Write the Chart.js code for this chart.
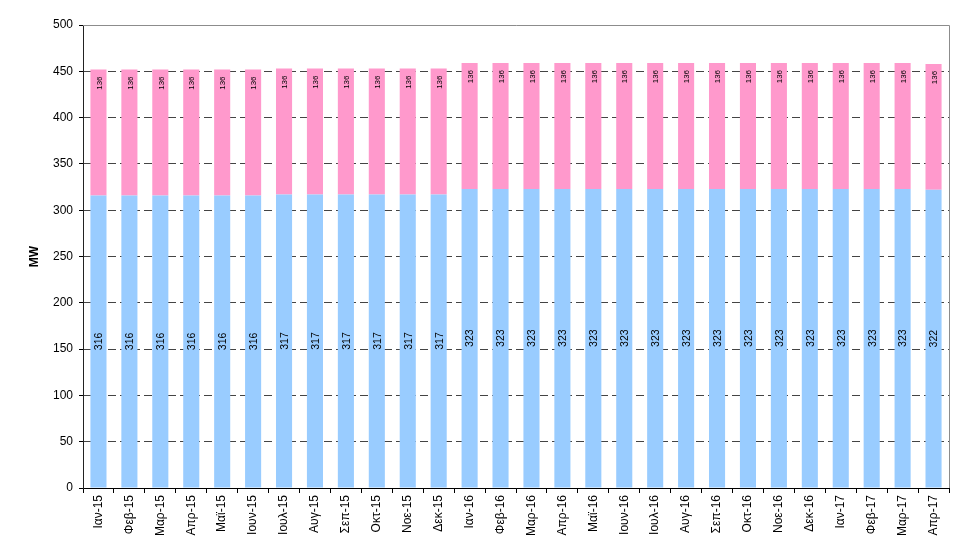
<!DOCTYPE html>
<html>
<head>
<meta charset="utf-8">
<script src="https://cdn.jsdelivr.net/npm/chart.js@4"></script>
<style>
  html, body { margin: 0; padding: 0; background: #fff; }
  #wrap { width: 956px; height: 549px; }
</style>
</head>
<body>
<div id="wrap"><canvas id="mwChart" width="956" height="549"></canvas></div>
<script>
// months (Greek abbreviations as in the original)
var months = ['Ιαν-15', 'Φεβ-15', 'Μαρ-15', 'Απρ-15', 'Μαϊ-15', 'Ιουν-15', 'Ιουλ-15', 'Αυγ-15', 'Σεπ-15', 'Οκτ-15', 'Νοε-15', 'Δεκ-15',
    'Ιαν-16', 'Φεβ-16', 'Μαρ-16', 'Απρ-16', 'Μαϊ-16', 'Ιουν-16', 'Ιουλ-16', 'Αυγ-16', 'Σεπ-16', 'Οκτ-16', 'Νοε-16', 'Δεκ-16',
    'Ιαν-17', 'Φεβ-17', 'Μαρ-17', 'Απρ-17']
var lowerValues = [316, 316, 316, 316, 316, 316, 317, 317, 317, 317, 317, 317,
    323, 323, 323, 323, 323, 323, 323, 323, 323, 323, 323, 323,
    323, 323, 323, 322]
var upperValues = [136, 136, 136, 136, 136, 136, 136, 136, 136, 136, 136, 136,
    136, 136, 136, 136, 136, 136, 136, 136, 136, 136, 136, 136,
    136, 136, 136, 136]
var yTicks = [0, 50, 100, 150, 200, 250, 300, 350, 400, 450, 500]

var fontFamily = '"Liberation Sans", Arial, sans-serif'

// frame round the plot area (top + right sides are grey)
var frame = {
    id: 'frame',
    beforeDatasetsDraw: function (chart) {
        var a = chart.chartArea, ctx = chart.ctx
        ctx.save()
        ctx.strokeStyle = '#8c8c8c'
        ctx.lineWidth = 1
        ctx.beginPath()
        ctx.moveTo(a.left, a.top + 0.5)
        ctx.lineTo(a.right + 0.5, a.top + 0.5)
        ctx.lineTo(a.right + 0.5, a.bottom)
        ctx.stroke()
        ctx.restore()
    }
}

// rotated value labels in the bars
var barLabels = {
    id: 'barLabels',
    afterDatasetsDraw: function (chart) {
        var ctx = chart.ctx
        ctx.save()
        ctx.fillStyle = '#000'
        chart.data.datasets.forEach(function (ds, di) {
            chart.getDatasetMeta(di).data.forEach(function (bar, i) {
                var txt = String(ds.data[i])
                ctx.save()
                if (di == 0) {
                    ctx.font = '10.5px ' + fontFamily
                    ctx.translate(bar.x + 1, (bar.y + bar.base) / 2)
                    ctx.rotate(-Math.PI / 2)
                    ctx.textAlign = 'center'
                    ctx.textBaseline = 'middle'
                } else {
                    ctx.font = '8px ' + fontFamily
                    ctx.translate(bar.x + 1, bar.y + 7)
                    ctx.rotate(-Math.PI / 2)
                    ctx.textAlign = 'right'
                    ctx.textBaseline = 'middle'
                }
                ctx.fillText(txt, 0, 0)
                ctx.restore()
            })
        })
        ctx.restore()
    }
}

new Chart(document.getElementById('mwChart').getContext('2d'), {
    type: 'bar',
    data: {
        labels: months,
        datasets: [
            {
                data: lowerValues,
                backgroundColor: '#99ccff',
                barPercentage: 0.52,
                categoryPercentage: 1
            },
            {
                data: upperValues,
                backgroundColor: '#ff99cc',
                barPercentage: 0.52,
                categoryPercentage: 1
            }
        ]
    },
    options: {
        responsive: false,
        animation: false,
        layout: { padding: { top: 25, right: 7, left: 27, bottom: 0 } },
        plugins: {
            legend: { display: false },
            tooltip: { enabled: false }
        },
        scales: {
            x: {
                stacked: true,
                afterFit: function (s) { s.height = 61 },
                grid: {
                    offset: true,
                    drawOnChartArea: false,
                    tickLength: 5,
                    color: '#000'
                },
                border: { color: '#000', width: 1 },
                ticks: {
                    minRotation: 90,
                    maxRotation: 90,
                    autoSkip: false,
                    padding: 2,
                    color: '#000',
                    font: { family: fontFamily, size: 12 }
                }
            },
            y: {
                stacked: true,
                min: 0,
                max: 500,
                afterFit: function (s) { s.width = 56 },
                afterBuildTicks: function (s) { s.ticks = yTicks.map(function (v) { return { value: v } }) },
                grid: {
                    color: function (c) { return c.tick.value == 500 ? 'rgba(0,0,0,0)' : '#444' },
                    tickLength: 4,
                    tickColor: '#000'
                },
                border: { color: '#222', width: 1, dash: [8, 4] },
                ticks: {
                    padding: 6,
                    color: '#000',
                    font: { family: fontFamily, size: 12 }
                },
                title: {
                    display: true,
                    text: 'MW',
                    color: '#000',
                    padding: { top: 0, bottom: 4 },
                    font: { family: fontFamily, size: 12, weight: 'bold' }
                }
            }
        }
    },
    plugins: [frame, barLabels]
})
</script>
</body>
</html>
